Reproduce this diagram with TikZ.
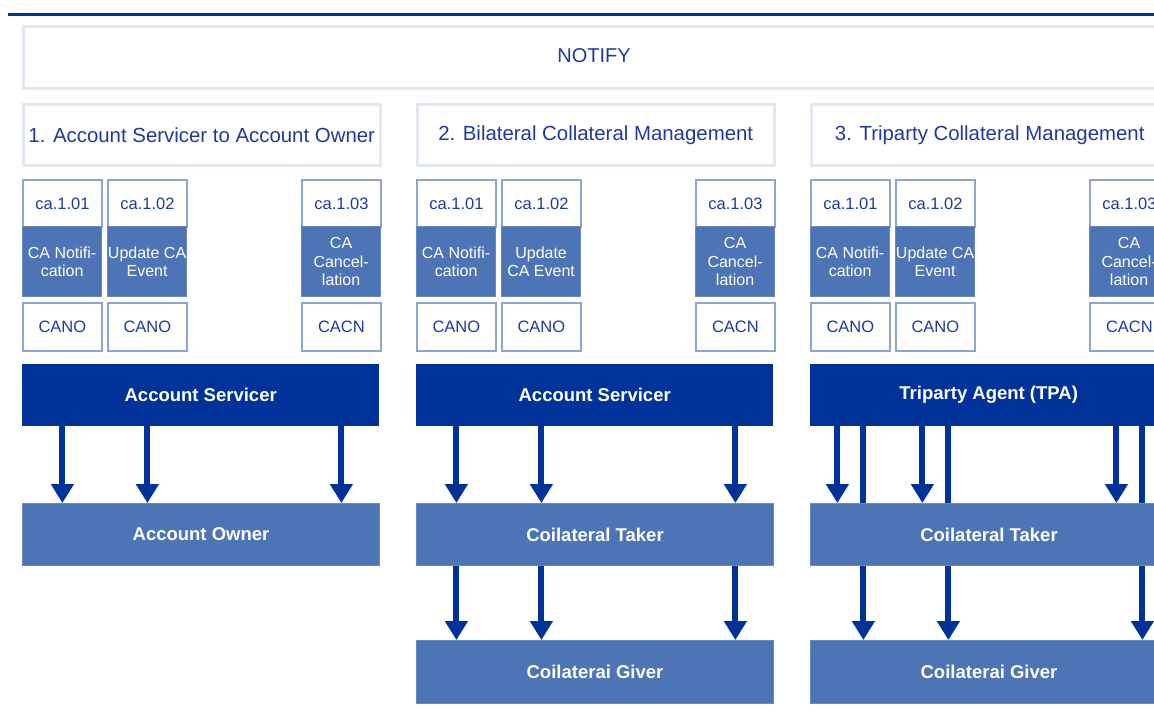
\documentclass[tikz,border=0pt]{standalone}
\usepackage{fontspec}
\setmainfont{Liberation Sans}
\usetikzlibrary{arrows.meta,calc}
\definecolor{dkblue}{HTML}{003399}
\definecolor{midblue}{HTML}{4D74B4}
\definecolor{txtblue}{HTML}{1F3A9E}
\definecolor{lightedge}{HTML}{E1E8F4}
\definecolor{boxedge}{HTML}{8EA5D0}
\tikzset{
  frame/.style={draw=lightedge, line width=2.5pt, fill=white, anchor=north west, inner sep=0pt,
    text=txtblue, font=\fontsize{20.4}{24}\selectfont},
  codebox/.style={draw=boxedge, line width=1.8pt, fill=white, anchor=north west,
    minimum width=79pt, minimum height=47pt, inner sep=0pt, text=txtblue,
    font=\fontsize{16.5}{19}\selectfont},
  namebox/.style={draw=midblue!85!white, line width=1.2pt, fill=midblue, anchor=north west,
    minimum width=79pt, minimum height=70pt, inner sep=0pt, text=white, align=center,
    font=\fontsize{16}{18.5}\selectfont},
  bar/.style={fill=dkblue, anchor=north west, minimum width=357pt, minimum height=62pt,
    inner sep=0pt, text=white, font=\bfseries\fontsize{18.5}{22}\selectfont},
  party/.style={bar, fill=midblue, draw=midblue!85!white, line width=1pt},
  flow/.style={draw=dkblue, line width=6pt, -{Triangle[width=22pt,length=19pt]}},
  pass/.style={draw=dkblue, line width=6pt}
}
\newcommand\msgcol[5]{%
  \node[codebox] (#1c) at (#2,179) {#3};
  \node[namebox] (#1n) at (#2,226) {#4};
  \node[codebox, minimum height=48pt] (#1k) at (#2,302) {#5};
}
\begin{document}
\begin{tikzpicture}[x=1pt,y=-1pt]
\useasboundingbox (0,0) rectangle (1154,716);
\clip (0,0) rectangle (1154,716);
\fill[white] (0,0) rectangle (1154,716);
\draw[dkblue, line width=3pt] (8,14) -- (1160,14);

\node[frame, minimum width=1160pt, minimum height=62pt] (notify) at (22,25) {};
\node[text=txtblue, font=\fontsize{20}{24}\selectfont] (notifytxt) at (594,56) {NOTIFY};

% column 1
\node[frame, minimum width=357pt, minimum height=61pt] (h1) at (22,103) {1. Account Servicer to Account Owner};
\msgcol{a}{22}{ca.1.01}{CA Notifi-\\cation}{CANO}
\msgcol{b}{107}{ca.1.02}{Update CA\\Event}{CANO}
\msgcol{c}{301}{ca.1.03}{CA\\Cancel-\\lation}{CACN}
\node[bar] (s1) at (22,364) {Account Servicer};
\node[party] (o1) at (22,503) {Account Owner};
\draw[flow] (s1.south -| ak.south) -- (o1.north -| ak.south);
\draw[flow] (s1.south -| bk.south) -- (o1.north -| bk.south);
\draw[flow] (s1.south -| ck.south) -- (o1.north -| ck.south);

% column 2
\node[frame, minimum width=357pt, minimum height=61pt] (h2) at (416,103) {2. Bilateral Collateral Management};
\msgcol{d}{416}{ca.1.01}{CA Notifi-\\cation}{CANO}
\msgcol{e}{501}{ca.1.02}{Update\\CA Event}{CANO}
\msgcol{f}{695}{ca.1.03}{CA\\Cancel-\\lation}{CACN}
\node[bar] (s2) at (416,364) {Account Servicer};
\node[party] (t2) at (416,503) {Coilateral Taker};
\node[party, minimum height=63pt] (g2) at (416,640) {Coilaterai Giver};
\foreach \m in {dk,ek,fk}{
  \draw[flow] (s2.south -| \m.south) -- (t2.north -| \m.south);
  \draw[flow] (t2.south -| \m.south) -- (g2.north -| \m.south);
}

% column 3
\node[frame, minimum width=357pt, minimum height=61pt] (h3) at (810,103) {3. Triparty Collateral Management};
\msgcol{g}{810}{ca.1.01}{CA Notifi-\\cation}{CANO}
\msgcol{h}{895}{ca.1.02}{Update CA\\Event}{CANO}
\msgcol{i}{1089}{ca.1.03}{CA\\Cancel-\\lation}{CACN}
\node[bar] (s3) at (810,364) {Triparty Agent (TPA)};
\node[party] (t3) at (810,503) {Coilateral Taker};
\node[party, minimum height=63pt] (g3) at (810,640) {Coilaterai Giver};
\foreach \m in {gk,hk,ik}{
  \draw[flow] ($(s3.south -| \m.south)+(-13,0)$) -- ($(t3.north -| \m.south)+(-13,0)$);
  \draw[pass] ($(s3.south -| \m.south)+(13,0)$) -- ($(t3.north -| \m.south)+(13,0)$);
  \draw[flow] ($(t3.south -| \m.south)+(13,0)$) -- ($(g3.north -| \m.south)+(13,0)$);
}
\end{tikzpicture}
\end{document}
